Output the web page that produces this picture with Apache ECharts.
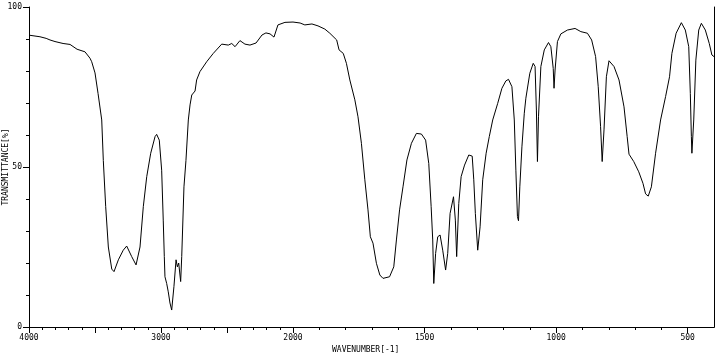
<!DOCTYPE html>
<html>
<head>
<meta charset="utf-8">
<script src="https://cdn.jsdelivr.net/npm/echarts@6/dist/echarts.min.js"></script>
<style>html,body{margin:0;padding:0;background:#fff}#c{width:715px;height:361px}</style>
</head>
<body>
<div id="c"></div>
<script>
// Wavenumber (cm-1) and transmittance (%)
const wavenumbers = [4000,3917,3870,3841,3803,3742,3689,3636,3576,3538,3525,3500,3477,3449,3437,3419,3399,3373,3356,3323,3286,3260,3222,3189,3159,3134,3108,3078,3045,3033,3013,2995,2983,2975,2970,2957,2945,2932,2919,2902,2886,2876,2866,2851,2843,2826,2811,2793,2780,2767,2742,2730,2705,2654,2604,2540,2490,2464,2439,2402,2364,2326,2280,2235,2205,2174,2144,2114,2061,2000,
1973,1955,1928,1905,1879,1860,1834,1825,1809,1797,1784,1765,1753,1740,1727,1715,1706,1696,1683,1670,1658,1633,1617,1607,1595,1582,1567,1550,1531,1512,1496,1484,1475,1469,1465,1458,1450,1441,1431,1420,1412,1403,1390,1383,1378,1370,1361,1348,1332,1319,1313,1307,1298,1289,1279,1266,1254,1241,1222,1206,1191,1181,1168,1159,1153,1147,1143,1138,1130,1121,1115,1100,1087,1080,1075,1071,1067,1058,1045,1029,1020,1011,1008,1004,995,982,957,928,906,881,865,850,840,831,825,818,809,799,780,761,742,730,723,705,686,670,660,650,638,622,603,584,569,560,544,524,509,496,490,486,484,477,469,458,448,433,418,408,400];
const transmittance = [91.2,90.7,90.2,89.7,89.2,88.6,88.3,86.8,86.0,84.0,82.9,79.4,73.0,64.7,52.0,37.6,25.0,18.1,17.3,21.0,24.0,25.3,22.0,19.4,25.0,37.6,47.0,54.3,59.5,60.2,58.4,49.0,33.4,22.0,15.7,13.6,11.0,7.5,5.3,12.6,21.0,18.8,20.0,14.2,22.0,43.8,52.0,64.7,69.4,72.5,73.75,77.2,79.8,82.9,85.5,88.4,88.1,88.6,87.6,89.5,88.4,88.1,88.75,91.25,91.9,91.6,90.6,94.4,95.2,95.3,
95.0,94.4,94.7,94.1,93.1,91.8,89.7,86.6,85.5,82.4,77.2,71.0,65.7,57.4,46.0,36.6,28.2,26.2,19.9,16.25,15.2,15.7,18.8,27.2,36.6,43.8,52.2,57.4,60.5,60.3,58.4,51.1,37.6,27.2,13.6,23.0,28.2,28.75,24.0,17.8,23.0,35.5,40.7,33.4,22.0,38.6,47.0,50.6,53.75,53.4,46.0,35.5,24.0,31.3,46.0,54.3,59.5,64.7,69.9,74.6,76.9,77.4,75.1,64.7,49.0,34.5,33.2,43.8,56.3,66.8,71.5,79.3,82.4,81.4,67.8,51.7,65.7,81.4,86.6,88.9,87.6,80.8,74.6,80.3,89.2,91.6,92.8,93.3,92.3,91.8,89.7,84.5,75.1,62.6,51.7,61.6,78.2,83.2,81.4,77.2,68.8,59.5,54.0,51.7,48.5,44.9,41.6,40.9,43.8,54.3,64.7,72.0,78.2,85.5,91.8,95.1,92.8,87.6,73.0,59.5,54.3,64.7,83.4,92.8,94.9,92.8,88.6,85.0,84.5];
const xTickLabelsHigh = [4000, 3000, 2000];
const xTickLabelsLow = [1500, 1000, 500];
const yTickLabels = [0, 50, 100];
const xName = 'WAVENUMBER[-1]';
const yName = 'TRANSMITTANCE[%]';

const highData = [], lowData = [];
wavenumbers.forEach((w, i) => {
  if (w >= 2000) highData.push([w, transmittance[i]]);
  if (w <= 2000) lowData.push([w, transmittance[i]]);
});

const FONT = 'DejaVu Sans Mono';
const black = '#000';
const lbl = {color: black, fontFamily: FONT, fontSize: 8, margin: 7};
const lineOnly = {
  axisLine: {show: true, lineStyle: {color: black, width: 1}},
  axisTick: {show: false}, axisLabel: {show: false}, splitLine: {show: false}
};

const chart = echarts.init(document.getElementById('c'), null, {renderer: 'canvas'});
chart.setOption({
  animation: false,
  backgroundColor: '#fff',
  title: {
    text: xName, left: 327, top: 341,
    textStyle: {color: black, fontFamily: FONT, fontSize: 8, fontWeight: 'normal'}
  },
  grid: [
    {left: 29, top: 7, bottom: 34, width: 264, containLabel: false, outerBoundsMode: 'none'},
    {left: 293, top: 7, bottom: 34, right: 1, containLabel: false, outerBoundsMode: 'none'}
  ],
  xAxis: [
    {
      gridIndex: 0, type: 'value', position: 'bottom', inverse: true,
      min: 2000, max: 4000, interval: 500,
      axisLine: {show: true, onZero: false, lineStyle: {color: black, width: 1}},
      axisTick: {show: true, length: 6, lineStyle: {color: black}},
      minorTick: {show: true, splitNumber: 5, length: 3, lineStyle: {color: black}},
      axisLabel: Object.assign({}, lbl, {showMinLabel: true, showMaxLabel: true,
        formatter: v => xTickLabelsHigh.indexOf(v) >= 0 ? String(v) : ''}),
      splitLine: {show: false}, minorSplitLine: {show: false}
    },
    Object.assign({gridIndex: 0, type: 'value', position: 'top', inverse: true, min: 2000, max: 4000}, lineOnly),
    {
      gridIndex: 1, type: 'value', position: 'bottom', inverse: true,
      min: 400, max: 2000, interval: 100,
      axisLine: {show: true, onZero: false, lineStyle: {color: black, width: 1}},
      axisTick: {show: true, length: 3, lineStyle: {color: black}},
      axisLabel: Object.assign({}, lbl, {showMinLabel: false, showMaxLabel: false,
        formatter: v => xTickLabelsLow.indexOf(v) >= 0 ? String(v) : ''}),
      splitLine: {show: false}
    },
    {
      gridIndex: 1, type: 'value', position: 'bottom', inverse: true,
      min: 400, max: 2000,
      axisLine: {show: false, onZero: false},
      axisTick: {show: true, length: 6, lineStyle: {color: black}, customValues: xTickLabelsLow},
      axisLabel: {show: false},
      splitLine: {show: false}
    },
    Object.assign({gridIndex: 1, type: 'value', position: 'top', inverse: true, min: 400, max: 2000}, lineOnly)
  ],
  yAxis: [
    {
      gridIndex: 0, type: 'value', position: 'left', min: 0, max: 100, interval: 50,
      name: yName, nameLocation: 'middle', nameGap: 19, nameMoveOverlap: false,
      nameTextStyle: {color: black, fontFamily: FONT, fontSize: 8},
      axisLine: {show: true, onZero: false, lineStyle: {color: black, width: 1}},
      axisTick: {show: true, length: 6, lineStyle: {color: black}},
      minorTick: {show: true, splitNumber: 5, length: 3, lineStyle: {color: black}},
      axisLabel: Object.assign({}, lbl, {margin: 7,
        formatter: v => yTickLabels.indexOf(v) >= 0 ? String(v) : ''}),
      splitLine: {show: false}, minorSplitLine: {show: false}
    },
    Object.assign({gridIndex: 1, type: 'value', position: 'right', min: 0, max: 100}, lineOnly)
  ],
  series: [
    {
      type: 'line', xAxisIndex: 0, yAxisIndex: 0, data: highData,
      showSymbol: false, symbol: 'none', lineStyle: {color: black, width: 1}, silent: true
    },
    {
      type: 'line', xAxisIndex: 2, yAxisIndex: 1, data: lowData,
      showSymbol: false, symbol: 'none', lineStyle: {color: black, width: 1}, silent: true
    }
  ]
});
</script>
</body>
</html>
